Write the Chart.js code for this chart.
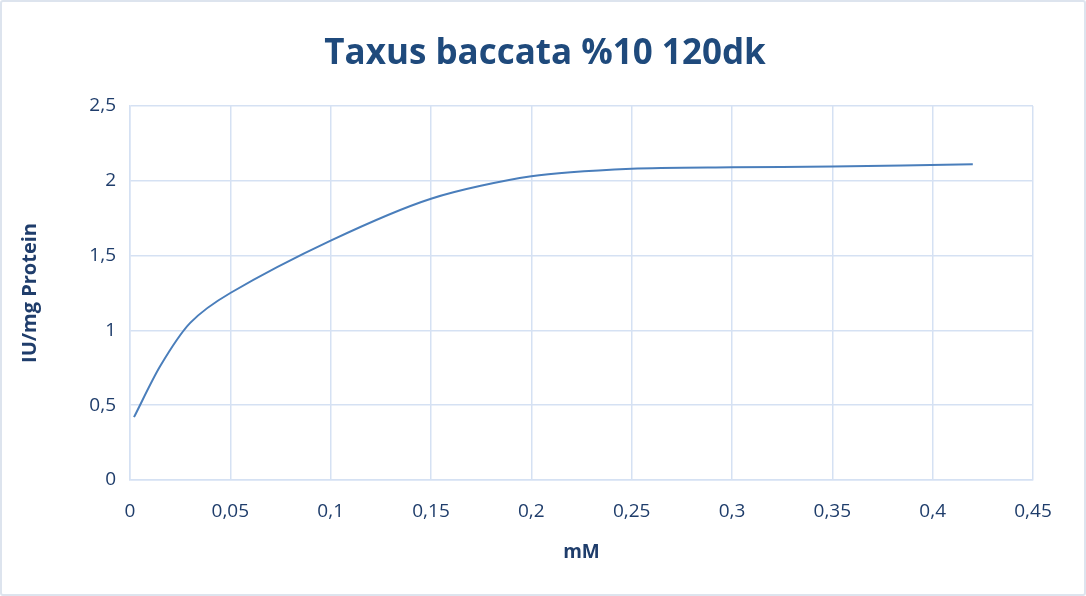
<!DOCTYPE html>
<html>
<head>
<meta charset="utf-8">
<script src="https://cdn.jsdelivr.net/npm/chart.js@4/dist/chart.umd.min.js"></script>
<style>
  html, body { margin: 0; padding: 0; background: #ffffff; }
  #wrap {
    position: relative;
    width: 1086px; height: 596px;
    box-sizing: border-box;
    border: 2px solid #dde4ee;
    border-radius: 3px;
  }
  canvas { position: absolute; left: 0; top: 0; }
</style>
</head>
<body>
<div id="wrap"><canvas id="chart" width="1082" height="592"></canvas></div>
<script>
// concentration (mM)
const concentrations = [0.002, 0.015, 0.03, 0.05, 0.1, 0.15, 0.2, 0.25, 0.3, 0.35, 0.42];
// activity (IU/mg protein)
const activity = [0.42, 0.76, 1.05, 1.25, 1.6, 1.88, 2.03, 2.08, 2.09, 2.095, 2.11];

const xTicks = [0, 0.05, 0.1, 0.15, 0.2, 0.25, 0.3, 0.35, 0.4, 0.45];
const yTicks = [0, 0.5, 1, 1.5, 2, 2.5];

const chartTitle = 'Taxus baccata %10 120dk';
const textBlue = '#1f3d6b';
const gridBlue = '#d5e1f3';
const lineBlue = '#4a7ebb';
const fontFamily = '"Open Sans", sans-serif';

function comma(v) {
    return String(v).replace('.', ',');
}

const points = concentrations.map(function(x, i) {
    return { x: x, y: activity[i] };
});

// title centred on the whole canvas, like the spreadsheet chart
const centredTitle = {
    id: 'centredTitle',
    afterDraw: function(chart) {
        const c = chart.ctx;
        c.save();
        c.fillStyle = '#1f4a7c';
        c.font = 'bold 35px ' + fontFamily;
        c.textAlign = 'center';
        c.textBaseline = 'alphabetic';
        c.fillText(chartTitle, chart.width / 2 + 2, 62);
        c.restore();
    }
};

const ctx = document.getElementById('chart').getContext('2d');
new Chart(ctx, {
    type: 'scatter',
    data: {
        datasets: [{
            data: points,
            showLine: true,
            borderColor: lineBlue,
            borderWidth: 2,
            pointRadius: 0,
            tension: 0.28
        }]
    },
    plugins: [centredTitle],
    options: {
        responsive: false,
        animation: false,
        layout: { padding: { left: 0, right: 51, top: 104, bottom: 0 } },
        plugins: {
            legend: { display: false },
            tooltip: { enabled: false },
            title: { display: false }
        },
        scales: {
            x: {
                type: 'linear',
                min: 0,
                max: 0.45,
                afterBuildTicks: function(axis) {
                    axis.ticks = xTicks.map(function(v) { return { value: v }; });
                },
                afterFit: function(axis) { axis.height = 114; },
                ticks: {
                    color: textBlue,
                    padding: 20,
                    font: { family: fontFamily, size: 19 },
                    callback: function(v) { return comma(v); }
                },
                grid: { color: gridBlue, lineWidth: 1.5, drawTicks: false },
                border: { color: gridBlue, width: 1.5 },
                title: {
                    display: true,
                    text: 'mM',
                    color: textBlue,
                    font: { family: fontFamily, size: 19, weight: 'bold' },
                    padding: { top: 4, bottom: 30 }
                }
            },
            y: {
                min: 0,
                max: 2.5,
                afterBuildTicks: function(axis) {
                    axis.ticks = yTicks.map(function(v) { return { value: v }; });
                },
                afterFit: function(axis) { axis.width = 128; },
                ticks: {
                    color: textBlue,
                    padding: 14,
                    font: { family: fontFamily, size: 19 },
                    callback: function(v) { return comma(v); }
                },
                grid: { color: gridBlue, lineWidth: 1.5, drawTicks: false },
                border: { color: gridBlue, width: 1.5 },
                title: {
                    display: true,
                    text: 'IU/mg Protein',
                    color: textBlue,
                    font: { family: fontFamily, size: 20, weight: 'bold' },
                    padding: { top: 16, bottom: 0 }
                }
            }
        }
    }
});
</script>
</body>
</html>
